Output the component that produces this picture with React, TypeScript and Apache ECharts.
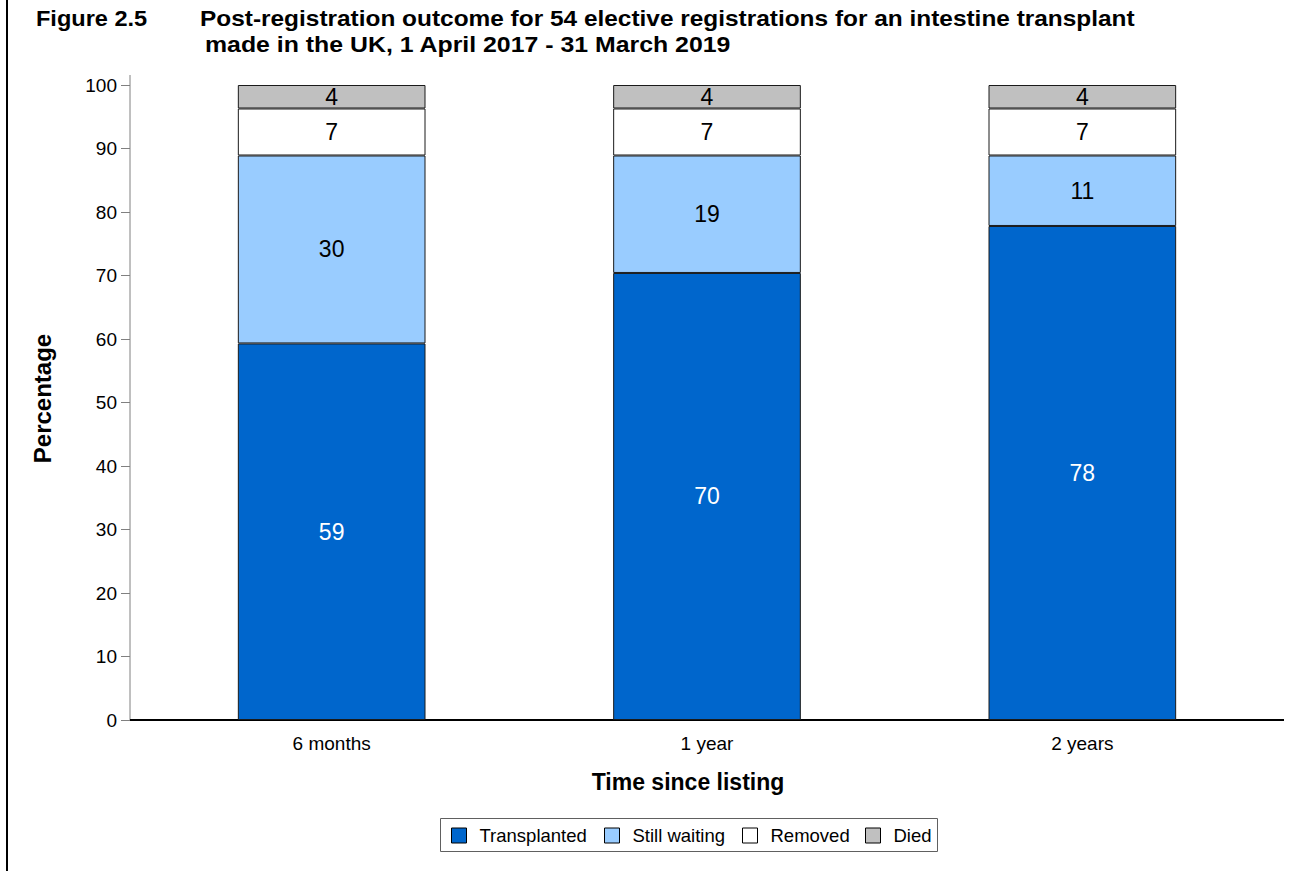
import React, { useRef, useEffect } from "react";
import * as echarts from "echarts";

const categories = ["6 months", "1 year", "2 years"];
const transplanted = [59.3, 70.4, 77.8];
const stillWaiting = [29.6, 18.5, 11.1];
const removed = [7.4, 7.4, 7.4];
const died = [3.7, 3.7, 3.7];
const yTicks = [0, 100, 10]; // min, max, interval

const FONT = "'Liberation Sans', Arial, sans-serif";
// x of each legend swatch inside the framed legend box
const legendX = [451, 604, 742, 865];

export default function App() {
  const chartRef = useRef<HTMLDivElement>(null);

  useEffect(() => {
    if (!chartRef.current) return;
    const chart = echarts.init(chartRef.current, null, { renderer: "svg" });

    const seg = (name: string, data: number[], color: string, labelColor: string) => ({
      name,
      type: "bar",
      stack: "total",
      data,
      barWidth: "50%",
      itemStyle: { color, borderColor: "#1a1a1a", borderWidth: 1 },
      label: {
        show: true,
        position: "inside",
        color: labelColor,
        fontFamily: FONT,
        fontSize: 23,
        formatter: (p: any) => String(Math.round(p.value)),
      },
    });

    const series = [
      seg("Transplanted", transplanted, "#0066cc", "#fff"),
      seg("Still waiting", stillWaiting, "#99ccff", "#000"),
      seg("Removed", removed, "#ffffff", "#000"),
      seg("Died", died, "#c0c0c0", "#000"),
    ];

    // one legend per entry so each can sit where it does in the original
    const legends = series.map((s, i) => ({
      left: legendX[i],
      top: 826,
      padding: 0,
      icon: "rect",
      itemWidth: 15,
      itemHeight: 15,
      textStyle: { fontFamily: FONT, fontSize: 18.5, color: "#000", padding: [0, 0, 0, 8] },
      itemStyle: { borderColor: "#000", borderWidth: 1 },
      data: [s.name],
    }));

    chart.setOption({
      animation: false,
      backgroundColor: "#fff",
      textStyle: { fontFamily: FONT },
      grid: { left: 144, right: 35, top: 85, bottom: 151 },
      legend: legends,
      xAxis: {
        type: "category",
        data: categories,
        name: "Time since listing",
        nameLocation: "middle",
        nameGap: 50,
        nameTextStyle: {
          fontFamily: FONT,
          fontSize: 23,
          fontWeight: "bold",
          color: "#000",
          padding: [0, 38, 0, 0],
        },
        axisLine: { show: false },
        axisTick: { show: false },
        axisLabel: { color: "#000", fontFamily: FONT, fontSize: 19, margin: 14 },
      },
      yAxis: {
        type: "value",
        min: yTicks[0],
        max: yTicks[1],
        interval: yTicks[2],
        offset: 14,
        name: "Percentage",
        nameLocation: "middle",
        nameRotate: 90,
        nameGap: 76,
        nameTextStyle: {
          fontFamily: FONT,
          fontSize: 24,
          fontWeight: "bold",
          color: "#000",
          padding: [0, 0, 0, 8],
        },
        axisLine: { show: false },
        axisTick: { show: true, length: 9, lineStyle: { color: "#808080" } },
        axisLabel: { color: "#000", fontFamily: FONT, fontSize: 19, margin: 13 },
        splitLine: { show: false },
      },
      series,
      graphic: [
        { type: "line", shape: { x1: 7, y1: 0, x2: 7, y2: 871 }, style: { stroke: "#000", lineWidth: 2 } },
        { type: "line", shape: { x1: 130, y1: 75, x2: 130, y2: 720 }, style: { stroke: "#808080", lineWidth: 1 } },
        { type: "line", shape: { x1: 130, y1: 720, x2: 1284, y2: 720 }, style: { stroke: "#000", lineWidth: 2 } },
        {
          type: "rect",
          shape: { x: 440.5, y: 818.5, width: 497, height: 33 },
          style: { fill: "none", stroke: "#606060", lineWidth: 1 },
          z: 10,
        },
        {
          type: "text",
          x: 36,
          y: 18,
          scaleX: 1.07,
          style: { text: "Figure 2.5", font: `bold 22px ${FONT}`, fill: "#000", verticalAlign: "middle" },
        },
        {
          type: "text",
          x: 200,
          y: 18,
          scaleX: 1.11,
          style: {
            text: "Post-registration outcome for 54 elective registrations for an intestine transplant",
            font: `bold 22px ${FONT}`,
            fill: "#000",
            verticalAlign: "middle",
          },
        },
        {
          type: "text",
          x: 205,
          y: 45,
          scaleX: 1.13,
          style: {
            text: "made in the UK, 1 April 2017 - 31 March 2019",
            font: `bold 22px ${FONT}`,
            fill: "#000",
            verticalAlign: "middle",
          },
        },
      ],
    });

    return () => chart.dispose();
  }, []);

  return (
    <div
      ref={chartRef}
      style={{ position: "absolute", left: 0, top: 0, width: 1305, height: 871 }}
    />
  );
}
